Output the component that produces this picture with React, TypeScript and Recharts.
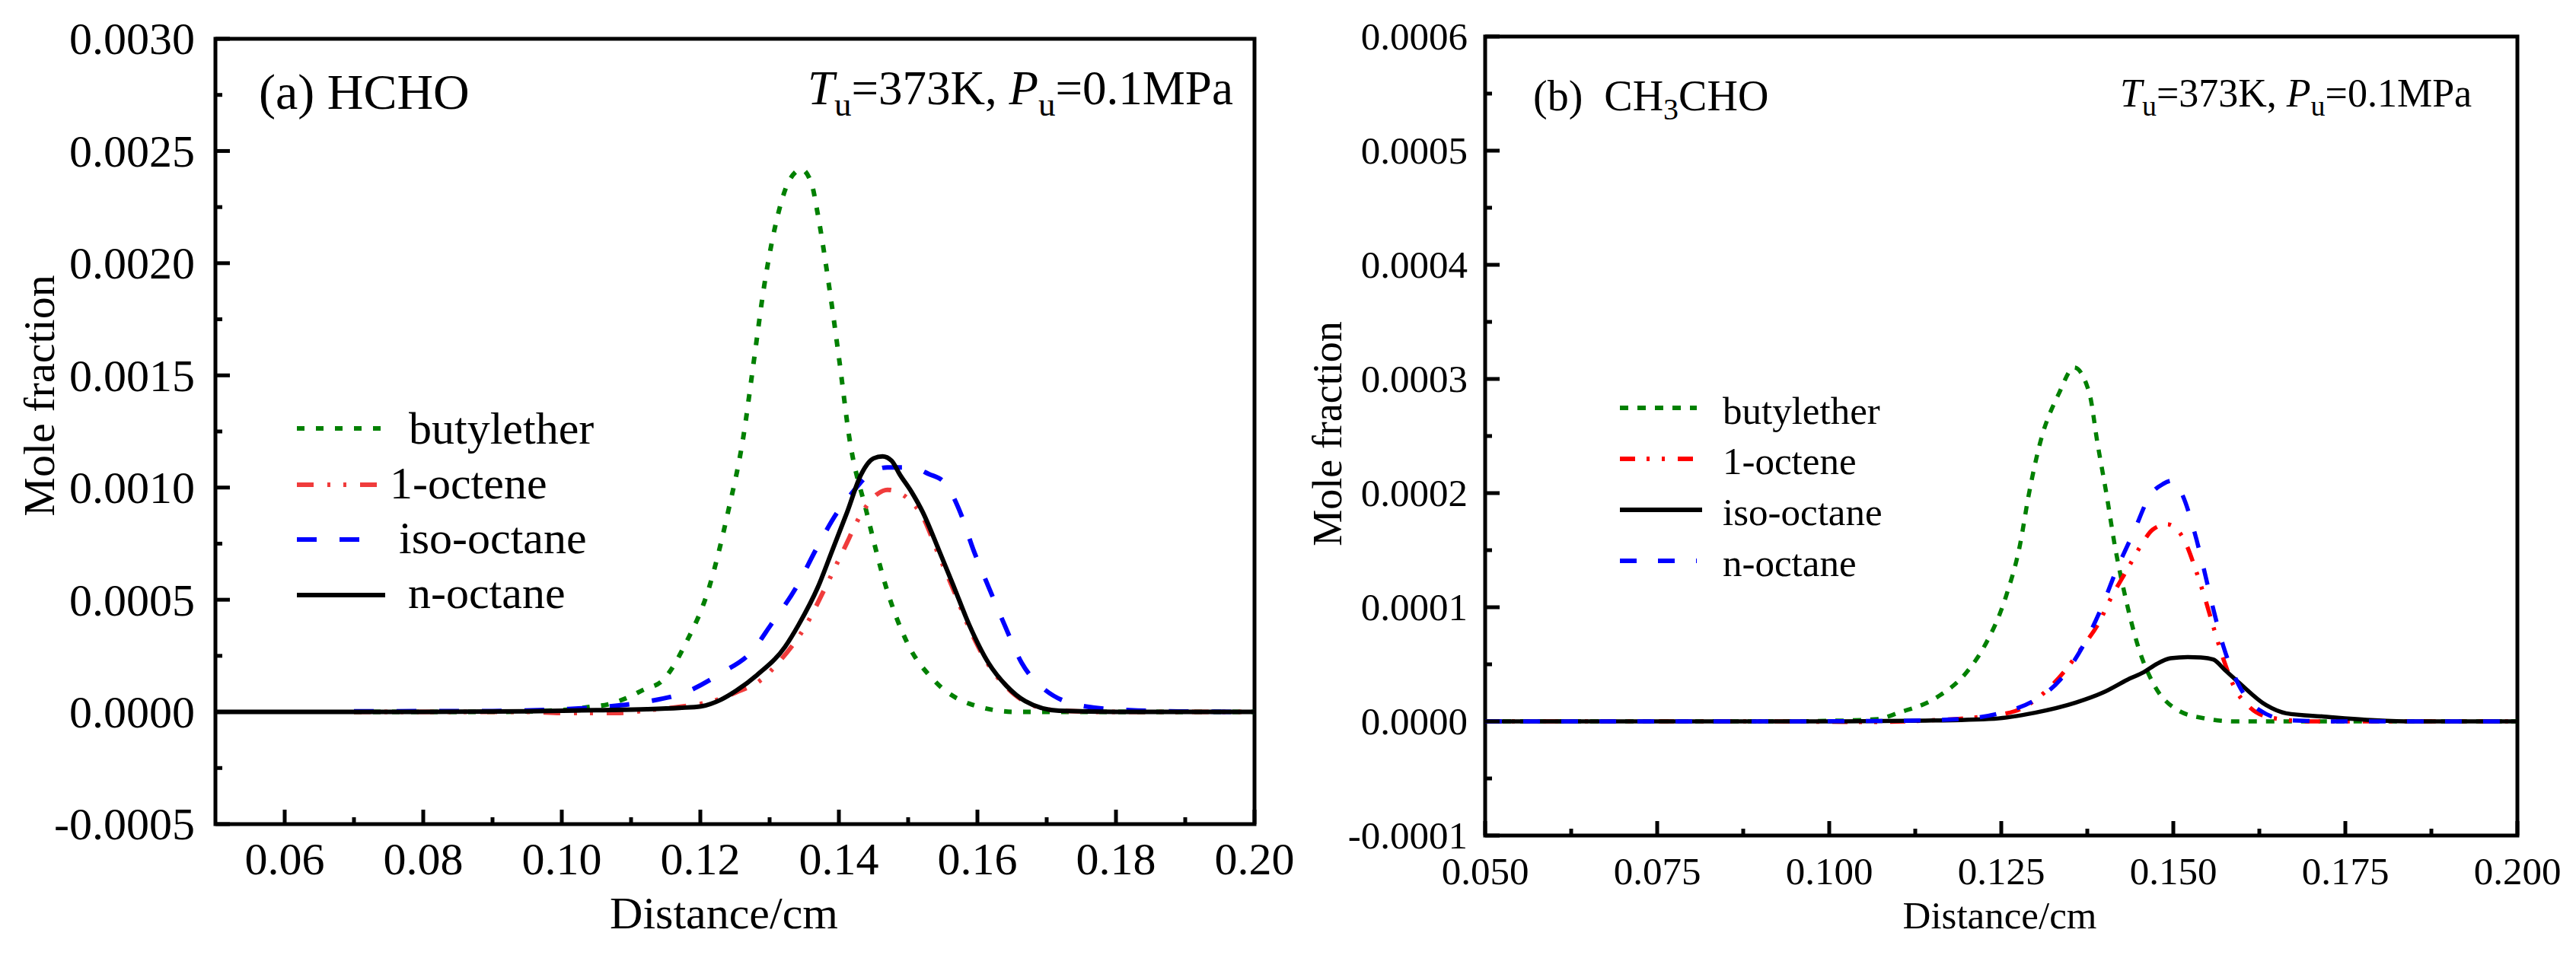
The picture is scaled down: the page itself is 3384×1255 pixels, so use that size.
import React from 'react';
import { LineChart, Line, XAxis, YAxis, ReferenceArea, Legend } from 'recharts';

const FONT = '"Liberation Serif", "Times New Roman", Times, serif';

// ---------- Panel (a) HCHO ----------
const hchoButylX = [0.07, 0.09, 0.1, 0.104, 0.1067, 0.1093, 0.1118, 0.1145, 0.1179, 0.1213, 0.124, 0.1262, 0.1277, 0.1292, 0.1313, 0.1327, 0.1346, 0.1361, 0.1369, 0.1386, 0.1401, 0.1415, 0.144, 0.1468, 0.1499, 0.1538, 0.1588, 0.1656, 0.18, 0.2];
const hchoButylY = [0, 0, 0.000008, 0.000022, 0.000034, 0.000061, 0.000099, 0.000139, 0.000306, 0.000558, 0.000891, 0.001224, 0.001558, 0.001895, 0.002228, 0.00236, 0.002418, 0.00235, 0.002228, 0.001895, 0.001558, 0.001224, 0.000891, 0.000558, 0.000306, 0.000139, 0.000037, 0, 0, 0];

const hchoOcteneX = [0.07, 0.095, 0.1, 0.108, 0.1125, 0.1173, 0.122, 0.1252, 0.1286, 0.1313, 0.1353, 0.1381, 0.1407, 0.1434, 0.1455, 0.147, 0.1485, 0.15, 0.1521, 0.1544, 0.1566, 0.1588, 0.1616, 0.1642, 0.1669, 0.172, 0.18, 0.2];
const hchoOcteneY = [0, 0, -0.000005, -0.000005, 0.000008, 0.000024, 0.00005, 0.000088, 0.000139, 0.000221, 0.000389, 0.000558, 0.000724, 0.000891, 0.00097, 0.00099, 0.00098, 0.00095, 0.00087, 0.0007, 0.00054, 0.000375, 0.00021, 0.00011, 0.000045, 0.000005, 0, 0];

const hchoIsoX = [0.07, 0.09, 0.1, 0.1067, 0.1123, 0.1179, 0.123, 0.1275, 0.1302, 0.1339, 0.1367, 0.1398, 0.142, 0.1443, 0.147, 0.1504, 0.153, 0.1552, 0.1575, 0.1594, 0.1616, 0.1639, 0.1664, 0.1695, 0.1757, 0.182, 0.19, 0.2];
const hchoIsoY = [0.000003, 0.000004, 0.000012, 0.000024, 0.000046, 0.000088, 0.000173, 0.000272, 0.000389, 0.000558, 0.000724, 0.000891, 0.00098, 0.001058, 0.00109, 0.00109, 0.00106, 0.001024, 0.000891, 0.000724, 0.000558, 0.000389, 0.000218, 0.000105, 0.000024, 0.000008, 0.000002, 0];

const hchoNoctX = [0.05, 0.08, 0.095, 0.105, 0.1123, 0.117, 0.1201, 0.123, 0.1252, 0.1282, 0.1322, 0.1342, 0.137, 0.1391, 0.1412, 0.1432, 0.145, 0.1463, 0.1476, 0.1488, 0.1505, 0.1521, 0.1544, 0.1566, 0.1588, 0.1616, 0.1642, 0.1669, 0.1718, 0.18, 0.2];
const hchoNoctY = [0, 0, 0.000003, 0.000008, 0.000012, 0.000018, 0.000025, 0.000055, 0.000095, 0.000165, 0.000289, 0.000389, 0.000558, 0.000724, 0.000891, 0.001058, 0.00113, 0.001139, 0.00112, 0.001058, 0.00098, 0.000891, 0.000724, 0.000558, 0.000389, 0.000218, 0.000116, 0.000048, 0.000005, 0, 0];

// ---------- Panel (b) CH3CHO ----------
const achButylX = [0.05, 0.09, 0.1, 0.107, 0.1101, 0.1156, 0.12, 0.1225, 0.1257, 0.1277, 0.129, 0.1306, 0.1334, 0.1356, 0.1378, 0.139, 0.1403, 0.1415, 0.143, 0.1449, 0.1472, 0.1506, 0.1545, 0.159, 0.2];
const achButylY = [0, 0, 0.0000005, 0.000002, 0.0000076, 0.0000209, 0.0000433, 0.0000653, 0.0001098, 0.000154, 0.0001987, 0.000243, 0.0002876, 0.00031, 0.0002876, 0.000243, 0.0001987, 0.000154, 0.0001098, 0.0000653, 0.000032, 0.00001, 0.0000027, 0, 0];

const achOcteneX = [0.05, 0.09, 0.105, 0.115, 0.122, 0.127, 0.1304, 0.1341, 0.1368, 0.1393, 0.1407, 0.1432, 0.1453, 0.147, 0.1491, 0.1514, 0.1533, 0.1545, 0.1558, 0.1573, 0.1587, 0.1612, 0.1644, 0.17, 0.2];
const achOcteneY = [0, 0, -0.0000005, 0.000001, 0.000004, 0.000009, 0.0000209, 0.0000433, 0.0000653, 0.0000876, 0.0001053, 0.000132, 0.000154, 0.000168, 0.0001727, 0.000161, 0.000132, 0.0001098, 0.0000833, 0.0000542, 0.000032, 0.0000118, 0.000003, 0, 0];

const achIsoX = [0.05, 0.1, 0.114, 0.124, 0.1299, 0.1358, 0.1398, 0.1437, 0.1457, 0.1475, 0.1496, 0.1521, 0.154, 0.1558, 0.1575, 0.1595, 0.1635, 0.1664, 0.1719, 0.1793, 0.185, 0.2];
const achIsoY = [0, 0, 0.0000007, 0.0000024, 0.0000076, 0.0000164, 0.0000253, 0.0000376, 0.0000431, 0.00005, 0.0000553, 0.0000564, 0.000056, 0.0000542, 0.000045, 0.0000342, 0.0000142, 0.0000071, 0.0000042, 0.000001, 0, 0];

const achNoctX = [0.05, 0.09, 0.11, 0.119, 0.125, 0.1299, 0.1336, 0.1368, 0.1395, 0.1417, 0.1442, 0.1467, 0.1485, 0.1499, 0.1513, 0.1531, 0.1545, 0.1558, 0.1573, 0.1595, 0.1625, 0.1669, 0.175, 0.2];
const achNoctY = [0, 0, 0.0000005, 0.000002, 0.0000076, 0.0000187, 0.0000367, 0.0000653, 0.0000987, 0.000132, 0.0001653, 0.0001987, 0.000208, 0.000211, 0.0001987, 0.0001653, 0.000132, 0.0000987, 0.0000653, 0.000032, 0.00001, 0.000001, 0, 0];

// ---------- Ticks ----------
const xTicksA = [0.06, 0.07, 0.08, 0.09, 0.1, 0.11, 0.12, 0.13, 0.14, 0.15, 0.16, 0.17, 0.18, 0.19, 0.2];
const xMajorA = [0.06, 0.08, 0.1, 0.12, 0.14, 0.16, 0.18, 0.2];
const yTicksA = [-0.0005, -0.00025, 0, 0.00025, 0.0005, 0.00075, 0.001, 0.00125, 0.0015, 0.00175, 0.002, 0.00225, 0.0025, 0.00275, 0.003];
const yMajorA = [-0.0005, 0, 0.0005, 0.001, 0.0015, 0.002, 0.0025, 0.003];

const xTicksB = [0.05, 0.0625, 0.075, 0.0875, 0.1, 0.1125, 0.125, 0.1375, 0.15, 0.1625, 0.175, 0.1875, 0.2];
const xMajorB = [0.05, 0.075, 0.1, 0.125, 0.15, 0.175, 0.2];
const yTicksB = [-0.0001, -0.00005, 0, 0.00005, 0.0001, 0.00015, 0.0002, 0.00025, 0.0003, 0.00035, 0.0004, 0.00045, 0.0005, 0.00055, 0.0006];
const yMajorB = [-0.0001, 0, 0.0001, 0.0002, 0.0003, 0.0004, 0.0005, 0.0006];

const seriesNames = ['butylether', '1-octene', 'iso-octane', 'n-octane'];

const toPts = (xs: number[], ys: number[]) => xs.map((x, i) => ({ x, y: ys[i] }));
const isIn = (arr: number[], v: number) => arr.some((m) => Math.abs(m - v) < 1e-9);

type Series = { name: string; pts: { x: number; y: number }[]; color: string; dash?: string; width: number };

const seriesA: Series[] = [
  { name: seriesNames[0], pts: toPts(hchoButylX, hchoButylY), color: '#008000', dash: '10 15', width: 6 },
  { name: seriesNames[1], pts: toPts(hchoOcteneX, hchoOcteneY), color: '#f03c3c', dash: '22 18 4 17 4 18', width: 6 },
  { name: seriesNames[2], pts: toPts(hchoIsoX, hchoIsoY), color: '#0000ff', dash: '26 30', width: 6 },
  { name: seriesNames[3], pts: toPts(hchoNoctX, hchoNoctY), color: '#000000', width: 6 },
];

const seriesB: Series[] = [
  { name: seriesNames[0], pts: toPts(achButylX, achButylY), color: '#008000', dash: '11 12', width: 5.5 },
  { name: seriesNames[1], pts: toPts(achOcteneX, achOcteneY), color: '#ff0000', dash: '20 15 4 16 4 17', width: 5.5 },
  { name: seriesNames[2], pts: toPts(achIsoX, achIsoY), color: '#000000', width: 5.5 },
  { name: seriesNames[3], pts: toPts(achNoctX, achNoctY), color: '#0000ff', dash: '22 28', width: 5.5 },
];

const makeXTick = (majors: number[], digits: number, fontSize: number, labelDy: number) => (props: any) => {
  const { x, y, payload } = props;
  const v = payload.value as number;
  const major = isIn(majors, v);
  return (
    <g>
      <line x1={x} y1={y} x2={x} y2={y - (major ? 19 : 9)} stroke="#000" strokeWidth={5} />
      {major && (
        <text x={x} y={y + labelDy} textAnchor="middle" fontFamily={FONT} fontSize={fontSize} fill="#000">
          {v.toFixed(digits)}
        </text>
      )}
    </g>
  );
};

const makeYTick = (majors: number[], digits: number, fontSize: number, gap: number) => (props: any) => {
  const { x, y, payload } = props;
  const v = payload.value as number;
  const major = isIn(majors, v);
  const label = Math.abs(v) < 1e-12 ? (0).toFixed(digits) : v.toFixed(digits);
  return (
    <g>
      <line x1={x} y1={y} x2={x + (major ? 19 : 9)} y2={y} stroke="#000" strokeWidth={5} />
      {major && (
        <text x={x - gap} y={y} dy="0.34em" textAnchor="end" fontFamily={FONT} fontSize={fontSize} fill="#000">
          {label}
        </text>
      )}
    </g>
  );
};

type LegendLayout = { lineX1: number; lineX2: number[]; lineY: number[]; textX: number[]; textY: number[]; fontSize: number };

const legendLayoutA: LegendLayout = {
  lineX1: 10,
  lineX2: [121, 121, 121, 126],
  lineY: [43, 117, 189, 262],
  textX: [157, 132, 144, 156],
  textY: [63, 135, 207, 279],
  fontSize: 60,
};

const legendLayoutB: LegendLayout = {
  lineX1: 28,
  lineX2: [129, 129, 136, 129],
  lineY: [36, 103, 170, 237],
  textX: [163, 163, 163, 163],
  textY: [57, 123, 190, 257],
  fontSize: 51,
};

const LegendBox = ({ series, layout }: { series: Series[]; layout: LegendLayout }) => (
  <svg width={460} height={300} style={{ display: 'block', overflow: 'visible' }}>
    {series.map((s, i) => (
      <g key={s.name}>
        <line
          x1={layout.lineX1}
          x2={layout.lineX2[i]}
          y1={layout.lineY[i]}
          y2={layout.lineY[i]}
          stroke={s.color}
          strokeWidth={6}
          strokeDasharray={s.dash}
        />
        <text x={layout.textX[i]} y={layout.textY[i]} fontFamily={FONT} fontSize={layout.fontSize} fill="#000">
          {s.name}
        </text>
      </g>
    ))}
  </svg>
);

type PanelProps = {
  width: number;
  series: Series[];
  xDomain: [number, number];
  yDomain: [number, number];
  xTicks: number[];
  xMajor: number[];
  xDigits: number;
  yTicks: number[];
  yMajor: number[];
  yDigits: number;
  margin: { top: number; right: number; bottom: number; left: number };
  yAxisWidth: number;
  xAxisHeight: number;
  tickFont: number;
  xLabelDy: number;
  yLabelGap: number;
  legendLayout: LegendLayout;
  legendPos: { left: number; top: number };
};

const Panel = (p: PanelProps) => (
  <LineChart width={p.width} height={1255} margin={p.margin}>
    <XAxis
      type="number"
      dataKey="x"
      domain={p.xDomain}
      allowDataOverflow
      ticks={p.xTicks}
      interval={0}
      tickSize={0}
      tickMargin={0}
      axisLine={false}
      tickLine={false}
      height={p.xAxisHeight}
      tick={makeXTick(p.xMajor, p.xDigits, p.tickFont, p.xLabelDy)}
    />
    <YAxis
      type="number"
      domain={p.yDomain}
      allowDataOverflow
      ticks={p.yTicks}
      interval={0}
      tickSize={0}
      tickMargin={0}
      axisLine={false}
      tickLine={false}
      width={p.yAxisWidth}
      tick={makeYTick(p.yMajor, p.yDigits, p.tickFont, p.yLabelGap)}
    />
    {p.series.map((s) => (
      <Line
        key={s.name}
        data={s.pts}
        dataKey="y"
        name={s.name}
        type="monotone"
        stroke={s.color}
        strokeWidth={s.width}
        strokeDasharray={s.dash}
        strokeLinejoin="round"
        dot={false}
        activeDot={false}
        isAnimationActive={false}
      />
    ))}
    <ReferenceArea
      x1={p.xDomain[0]}
      x2={p.xDomain[1]}
      y1={p.yDomain[0]}
      y2={p.yDomain[1]}
      fill="none"
      fillOpacity={0}
      stroke="#000"
      strokeWidth={5}
      ifOverflow="visible"
    />
    <Legend
      layout="vertical"
      align="center"
      verticalAlign="middle"
      wrapperStyle={{ left: p.legendPos.left, top: p.legendPos.top, width: 460, height: 300 }}
      content={() => <LegendBox series={p.series} layout={p.legendLayout} />}
    />
  </LineChart>
);

export default function App() {
  return (
    <div style={{ position: 'absolute', left: 0, top: 0, width: 3384, height: 1255, background: '#fff', overflow: 'hidden' }}>
      <div style={{ position: 'absolute', left: 0, top: 0 }}>
        <Panel
          width={1760}
          series={seriesA}
          xDomain={[0.05, 0.2]}
          yDomain={[-0.0005, 0.003]}
          xTicks={xTicksA}
          xMajor={xMajorA}
          xDigits={2}
          yTicks={yTicksA}
          yMajor={yMajorA}
          yDigits={4}
          margin={{ top: 51, right: 112, bottom: 0, left: 0 }}
          yAxisWidth={283}
          xAxisHeight={172}
          tickFont={60}
          xLabelDy={66}
          yLabelGap={27}
          legendLayout={legendLayoutA}
          legendPos={{ left: 380, top: 520 }}
        />
      </div>
      <div style={{ position: 'absolute', left: 1692, top: 0 }}>
        <Panel
          width={1692}
          series={seriesB}
          xDomain={[0.05, 0.2]}
          yDomain={[-0.0001, 0.0006]}
          xTicks={xTicksB}
          xMajor={xMajorB}
          xDigits={3}
          yTicks={yTicksB}
          yMajor={yMajorB}
          yDigits={4}
          margin={{ top: 48, right: 77, bottom: 0, left: 0 }}
          yAxisWidth={259}
          xAxisHeight={157}
          tickFont={51}
          xLabelDy={64}
          yLabelGap={23}
          legendLayout={legendLayoutB}
          legendPos={{ left: 408, top: 500 }}
        />
      </div>
      <svg
        width={3384}
        height={1255}
        style={{ position: 'absolute', left: 0, top: 0, pointerEvents: 'none' }}
        fontFamily={FONT}
        fill="#000"
      >
        {/* Panel (a) */}
        <text x={340} y={143} fontSize={66}>(a) HCHO</text>
        <text x={1061} y={137} fontSize={63}>
          <tspan fontStyle="italic">T</tspan>
          <tspan fontSize={45} dy={15}>u</tspan>
          <tspan dy={-15}>=373K, </tspan>
          <tspan fontStyle="italic">P</tspan>
          <tspan fontSize={45} dy={15}>u</tspan>
          <tspan dy={-15}>=0.1MPa</tspan>
        </text>
        <text x={951} y={1220} fontSize={60} textAnchor="middle">Distance/cm</text>
        <text
          x={51}
          y={520}
          fontSize={58}
          textAnchor="middle"
          dominantBaseline="central"
          transform="rotate(-90 51 520)"
        >
          Mole fraction
        </text>

        {/* Panel (b) */}
        <text x={2014} y={145} fontSize={56}>
          <tspan>{'(b)\u00A0\u00A0CH'}</tspan>
          <tspan fontSize={40} dy={12}>3</tspan>
          <tspan dy={-12}>CHO</tspan>
        </text>
        <text x={2785} y={140} fontSize={52}>
          <tspan fontStyle="italic">T</tspan>
          <tspan fontSize={38} dy={12}>u</tspan>
          <tspan dy={-12}>=373K, </tspan>
          <tspan fontStyle="italic">P</tspan>
          <tspan fontSize={38} dy={12}>u</tspan>
          <tspan dy={-12}>=0.1MPa</tspan>
        </text>
        <text x={2627} y={1220} fontSize={51} textAnchor="middle">Distance/cm</text>
        <text
          x={1744}
          y={570}
          fontSize={54}
          textAnchor="middle"
          dominantBaseline="central"
          transform="rotate(-90 1744 570)"
        >
          Mole fraction
        </text>
      </svg>
    </div>
  );
}
